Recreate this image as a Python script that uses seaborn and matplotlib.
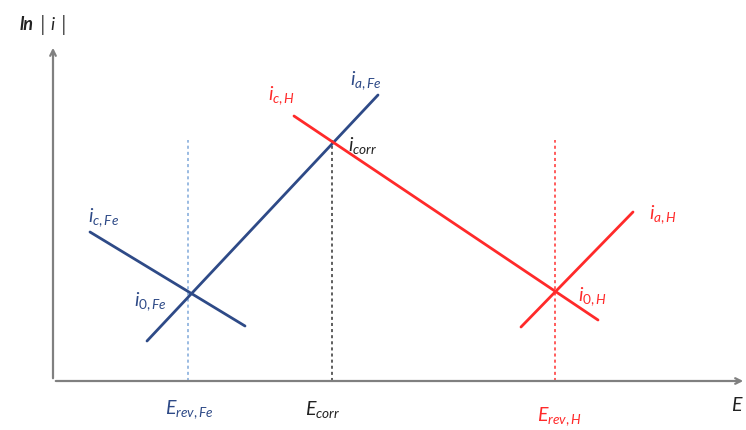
import matplotlib
matplotlib.use('Agg')
import matplotlib.pyplot as plt
import seaborn as sns

# Evans diagram: potential E (x) vs ln|i| (y), arbitrary units
fe_anodic_E = [0.94, 3.25]
fe_anodic_lni = [0.40, 2.86]
fe_cathodic_E = [0.37, 1.92]
fe_cathodic_lni = [1.49, 0.55]
h_cathodic_E = [2.41, 5.45]
h_cathodic_lni = [2.65, 0.61]
h_anodic_E = [4.68, 5.80]
h_anodic_lni = [0.54, 1.69]

# vertical reference potentials (E position, top of the dotted line)
ref_names = ["E_rev,Fe", "E_corr", "E_rev,H"]
ref_E = [1.35, 2.79, 5.02]
ref_top = [2.41, 2.41, 2.41]

blue = "#2E4A87"
red = "#FF2A2A"
ref_colors = ["#7FA8DA", "#333333", "#FF3030"]

sns.set_style("white")
plt.rcParams['font.family'] = ['Lato', 'DejaVu Sans']
plt.rcParams['mathtext.fontset'] = 'custom'
plt.rcParams['mathtext.rm'] = 'Lato'
plt.rcParams['mathtext.it'] = 'Lato:italic'

fig = plt.figure(figsize=(7.46, 4.30), dpi=100)
ax = fig.add_axes([0, 0, 1, 1])
ax.set_xlim(-0.53, 6.93)
ax.set_ylim(-0.49, 3.81)
ax.axis('off')

# axes with arrows
ax.annotate("", xy=(6.93, 0), xytext=(0, 0),
            arrowprops=dict(arrowstyle="->", color="#808080", lw=1.6))
ax.annotate("", xy=(0, 3.36), xytext=(0, 0),
            arrowprops=dict(arrowstyle="->", color="#808080", lw=1.6))

# dotted reference potentials
for e, top, c in zip(ref_E, ref_top, ref_colors):
    ax.plot([e, e], [0, top], color=c, lw=1.1, linestyle=(0, (2, 2)))

# polarisation lines
sns.lineplot(x=fe_anodic_E, y=fe_anodic_lni, color=blue, lw=2, ax=ax)
sns.lineplot(x=fe_cathodic_E, y=fe_cathodic_lni, color=blue, lw=2, ax=ax)
sns.lineplot(x=h_cathodic_E, y=h_cathodic_lni, color=red, lw=2, ax=ax)
sns.lineplot(x=h_anodic_E, y=h_anodic_lni, color=red, lw=2, ax=ax)

fs = 14
ax.text(-0.33, 3.56, "ln", fontsize=13, color="#222222", fontweight="bold",
        style="italic", ha="left", va="center")
ax.text(-0.13, 3.56, "|", fontsize=16, color="#555555", ha="left", va="center")
ax.text(-0.03, 3.56, "i", fontsize=13, color="#222222", style="italic",
        ha="left", va="center")
ax.text(0.08, 3.56, "|", fontsize=16, color="#555555", ha="left", va="center")

ax.text(2.97, 3.00, r"$i_{a,Fe}$", fontsize=fs, color=blue, ha="left", va="center")
ax.text(2.15, 2.85, r"$i_{c,H}$", fontsize=fs, color=red, ha="left", va="center")
ax.text(2.95, 2.35, r"$i_{corr}$", fontsize=fs, color="#222222", ha="left", va="center")
ax.text(0.35, 1.63, r"$i_{c,Fe}$", fontsize=fs, color=blue, ha="left", va="center")
ax.text(0.81, 0.79, r"$i_{0,Fe}$", fontsize=fs, color=blue, ha="left", va="center")
ax.text(5.25, 0.84, r"$i_{0,H}$", fontsize=fs, color=red, ha="left", va="center")
ax.text(5.96, 1.66, r"$i_{a,H}$", fontsize=fs, color=red, ha="left", va="center")

ax.text(1.36, -0.29, r"$E_{rev,Fe}$", fontsize=fs, color=blue, ha="center", va="center")
ax.text(2.70, -0.29, r"$E_{corr}$", fontsize=fs, color="#222222", ha="center", va="center")
ax.text(5.06, -0.36, r"$E_{rev,H}$", fontsize=fs, color=red, ha="center", va="center")
ax.text(6.91, -0.24, r"$E$", fontsize=fs, color="#222222", ha="right", va="center")

fig.savefig("out.png", dpi=100)
